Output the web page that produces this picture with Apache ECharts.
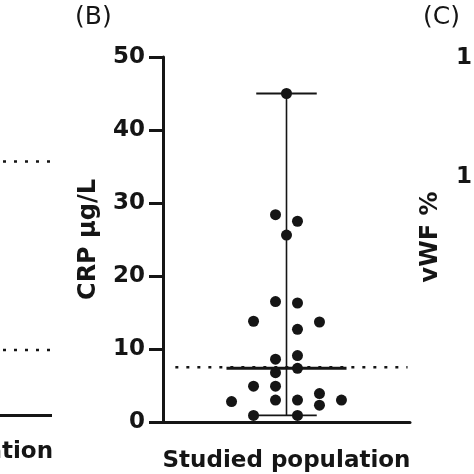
<!DOCTYPE html>
<html><head><meta charset="utf-8">
<script src="https://cdn.jsdelivr.net/npm/echarts@6/dist/echarts.min.js"></script>
<style>html,body{margin:0;padding:0;background:#fff}#c{width:474px;height:474px}</style>
</head><body><div id="c"></div>
<script>
// ---- data ----
var categories = ['Studied population'];
var crpValues = [45.0, 28.4, 27.5, 25.6, 16.5, 16.3, 13.8, 13.7, 12.7, 9.1, 8.6, 7.35, 6.75, 4.9, 4.9, 3.9, 2.8, 3.0, 3.0, 2.3, 3.0, 0.9, 0.9];
var swarmSlots = [0, -0.5, 0.5, 0, -0.5, 0.5, -1.5, 1.5, 0.5, 0.5, -0.5, 0.5, -0.5, -1.5, -0.5, 1.5, -2.5, -0.5, 0.5, 1.5, 2.5, -1.5, 0.5];
var referenceValue = [7.5];
var yTicks = [0, 10, 20, 30, 40, 50];

// ---- derived ----
var sorted = crpValues.slice().sort(function(a,b){return a-b;});
var median = sorted[Math.floor(sorted.length/2)];
var vmin = sorted[0], vmax = sorted[sorted.length-1];
var slotW = 0.178;
var pts = crpValues.map(function(v,i){return [swarmSlots[i]*slotW, v];});
var FONT = 'DejaVu Sans';
var INK = '#151515';

var chart = echarts.init(document.getElementById('c'), null, {renderer:'canvas'});
function seg(data, w, extra){
  return Object.assign({type:'line', xAxisIndex:1, data:data, symbol:'none', silent:true,
    lineStyle:{color:INK, width:w, cap:'butt'}, z:2}, extra||{});
}
chart.setOption({
  animation:false,
  grid:{left:163, right:64, top:57, bottom:52},
  xAxis:[{
    type:'category', data:categories,
    axisLine:{onZero:false, lineStyle:{color:INK, width:3}},
    axisTick:{alignWithLabel:true, length:15, lineStyle:{color:INK, width:3}},
    axisLabel:{color:INK, fontFamily:FONT, fontWeight:'bold', fontSize:23, margin:28}
  },{
    type:'value', min:-1, max:1, show:false
  }],
  yAxis:{
    type:'value', min:yTicks[0], max:yTicks[yTicks.length-1], interval:10,
    position:'left',
    axisLine:{show:true, onZero:false, lineStyle:{color:INK, width:3}},
    axisTick:{show:true, length:14, lineStyle:{color:INK, width:3}},
    splitLine:{show:false},
    axisLabel:{color:INK, fontFamily:FONT, fontWeight:'bold', fontSize:23, margin:18},
    name:'CRP µg/L', nameLocation:'middle', nameGap:62,
    nameTextStyle:{color:INK, fontFamily:FONT, fontWeight:'bold', fontSize:24}
  },
  series:[
    seg([[-0.9, referenceValue[0]],[0.98, referenceValue[0]]], 2.5, {lineStyle:{color:INK, width:2.5, type:[3,8]}}),
    seg([[0, vmin],[0, vmax]], 1.6),
    seg([[-0.245, vmax],[0.245, vmax]], 1.8),
    seg([[-0.245, vmin],[0.245, vmin]], 1.8),
    seg([[-0.486, median],[0.486, median]], 3),
    {type:'scatter', xAxisIndex:1, data:pts, symbol:'circle', symbolSize:11,
     itemStyle:{color:INK, opacity:1}, z:5}
  ],
  graphic:[
    {type:'text', left:75, top:5, style:{text:'(B)', font:'25px "DejaVu Sans"', fill:INK}},
    {type:'text', left:423, top:5, style:{text:'(C)', font:'25px "DejaVu Sans"', fill:INK}},
    {type:'text', left:456, top:47, style:{text:'1', font:'bold 23px "DejaVu Sans"', fill:INK}},
    {type:'text', left:456, top:166, style:{text:'1', font:'bold 23px "DejaVu Sans"', fill:INK}},
    {type:'text', x:431, y:237, rotation:Math.PI/2, style:{text:'vWF %', font:'bold 24px "DejaVu Sans"', fill:INK, align:'center', verticalAlign:'middle'}},
    {type:'line', shape:{x1:3, y1:161.5, x2:50, y2:161.5}, style:{stroke:INK, lineWidth:2.5, lineDash:[3,8]}},
    {type:'line', shape:{x1:3, y1:350, x2:50, y2:350}, style:{stroke:INK, lineWidth:2.5, lineDash:[3,8]}},
    {type:'line', shape:{x1:0, y1:415.5, x2:52, y2:415.5}, style:{stroke:INK, lineWidth:3}},
    {type:'text', x:53, y:452, style:{text:'Studied population', font:'bold 23px "DejaVu Sans"', fill:INK, align:'right', verticalAlign:'middle'}}
  ]
});
</script></body></html>
